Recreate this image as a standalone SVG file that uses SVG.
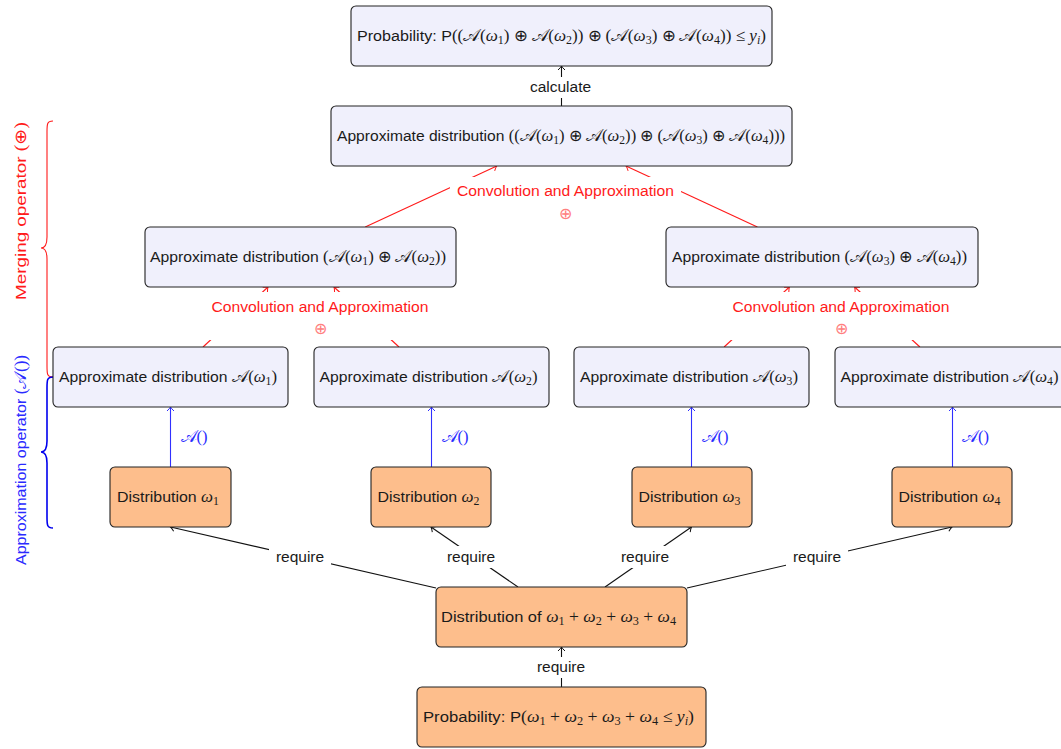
<svg xmlns="http://www.w3.org/2000/svg" width="1061" height="749" viewBox="0 0 1061 749">
<style>
.tx{font-family:"Liberation Sans","DejaVu Sans",sans-serif;font-size:15.5px;fill:#1a1a1a}
.r{font-family:"Liberation Serif","DejaVu Serif",serif;font-style:normal;font-size:16.5px}
.i{font-family:"Liberation Serif","DejaVu Serif",serif;font-style:italic;font-size:16.5px}
.c{font-family:"DejaVu Serif","Liberation Serif",serif;font-style:normal;font-size:16.5px}
.op{font-family:"DejaVu Sans","Liberation Serif",sans-serif;font-weight:200;font-style:normal;font-size:16px}
.s{font-family:"Liberation Serif","DejaVu Serif",serif;font-style:normal;font-size:11.5px}
.si{font-family:"Liberation Serif","DejaVu Serif",serif;font-style:italic;font-size:11.5px}
.bl{fill:#f0f0fc;stroke:#222;stroke-width:1.1}
.or{fill:#fdbe8c;stroke:#222;stroke-width:1.1}
.k{stroke:#111;stroke-width:1.1;fill:none}
.rd{stroke:#ff1a1a;stroke-width:1.1;fill:none}
.bu{stroke:#3030ff;stroke-width:1.1;fill:none}
.wb{fill:#fff}
.red{fill:#ff1a1a}
.pale{fill:#ff8080}
.blue{fill:#2a2aff}
</style>
<defs>
<marker id="ak" viewBox="-6 -5 8 10" markerWidth="8" markerHeight="10" refX="0" refY="0" orient="auto" markerUnits="userSpaceOnUse"><path d="M-4,-3.5 Q-1.5,-0.8 0,0 Q-1.5,0.8 -4,3.5" fill="none" stroke="#111" stroke-width="1"/></marker>
<marker id="ar" viewBox="-6 -5 8 10" markerWidth="8" markerHeight="10" refX="0" refY="0" orient="auto" markerUnits="userSpaceOnUse"><path d="M-4,-3.5 Q-1.5,-0.8 0,0 Q-1.5,0.8 -4,3.5" fill="none" stroke="#ff1a1a" stroke-width="1"/></marker>
<marker id="ab" viewBox="-6 -5 8 10" markerWidth="8" markerHeight="10" refX="0" refY="0" orient="auto" markerUnits="userSpaceOnUse"><path d="M-4,-3.5 Q-1.5,-0.8 0,0 Q-1.5,0.8 -4,3.5" fill="none" stroke="#3030ff" stroke-width="1"/></marker>
</defs>
<rect width="1061" height="749" fill="#fff"/>

<g id="connectors">
<path class="k" d="M561.5,106 V66" marker-end="url(#ak)"/>
<path class="rd" d="M365.2,227 L496.8,166" marker-end="url(#ar)"/>
<path class="rd" d="M757.4,227 L626,166" marker-end="url(#ar)"/>
<path class="rd" d="M203,347 L268,287" marker-end="url(#ar)"/>
<path class="rd" d="M399,347 L334,287" marker-end="url(#ar)"/>
<path class="rd" d="M724.1,347 L789.4,287" marker-end="url(#ar)"/>
<path class="rd" d="M919.9,347 L854.6,287" marker-end="url(#ar)"/>
<path class="bu" d="M170.5,467 V407" marker-end="url(#ab)"/>
<path class="bu" d="M431.5,467 V407" marker-end="url(#ab)"/>
<path class="bu" d="M691.5,467 V407" marker-end="url(#ab)"/>
<path class="bu" d="M952.5,467 V407" marker-end="url(#ab)"/>
<path class="k" d="M436,588 L170.5,527" marker-end="url(#ak)"/>
<path class="k" d="M518,587 L431,527" marker-end="url(#ak)"/>
<path class="k" d="M605,587 L691.5,527" marker-end="url(#ak)"/>
<path class="k" d="M687,588 L952,527" marker-end="url(#ak)"/>
<path class="k" d="M561.5,687 V647" marker-end="url(#ak)"/>

<rect class="wb" x="521" y="77" width="79" height="21"/>
<text class="tx" x="560.5" y="92" text-anchor="middle">calculate</text>
<rect class="wb" x="450" y="177" width="231" height="45"/>
<text class="tx red" x="565.5" y="196" text-anchor="middle" textLength="217" lengthAdjust="spacingAndGlyphs">Convolution and Approximation</text>
<text class="op pale" x="565.5" y="219" text-anchor="middle">⊕</text>
<rect class="wb" x="205" y="292" width="231" height="48"/>
<text class="tx red" x="320" y="312" text-anchor="middle" textLength="217" lengthAdjust="spacingAndGlyphs">Convolution and Approximation</text>
<text class="op pale" x="320" y="334" text-anchor="middle">⊕</text>
<rect class="wb" x="726" y="292" width="231" height="48"/>
<text class="tx red" x="841" y="312" text-anchor="middle" textLength="217" lengthAdjust="spacingAndGlyphs">Convolution and Approximation</text>
<text class="op pale" x="841" y="334" text-anchor="middle">⊕</text>
<text class="c blue" x="180.5" y="442">𝒜<tspan class="r">()</tspan></text>
<text class="c blue" x="441.5" y="442">𝒜<tspan class="r">()</tspan></text>
<text class="c blue" x="701.5" y="442">𝒜<tspan class="r">()</tspan></text>
<text class="c blue" x="962" y="442">𝒜<tspan class="r">()</tspan></text>
<rect class="wb" x="269" y="546" width="62" height="22"/>
<text class="tx" x="300" y="562" text-anchor="middle">require</text>
<rect class="wb" x="440" y="546" width="62" height="22"/>
<text class="tx" x="471" y="562" text-anchor="middle">require</text>
<rect class="wb" x="614" y="546" width="62" height="22"/>
<text class="tx" x="645" y="562" text-anchor="middle">require</text>
<rect class="wb" x="786" y="546" width="62" height="22"/>
<text class="tx" x="817" y="562" text-anchor="middle">require</text>
<rect class="wb" x="530" y="657" width="62" height="21"/>
<text class="tx" x="561" y="672" text-anchor="middle">require</text>
</g>

<g id="brace-merging">
<path class="rd" stroke-width="1.6" d="M53,121 C47,121 47,124 47,132 L47,237 C47,244 45,248 41,248 C45,248 47,252 47,259 L47,366 C47,374 47,377 53,377"/>
<text class="tx red" transform="translate(26,300) rotate(-90)" textLength="178" lengthAdjust="spacingAndGlyphs">Merging operator <tspan class="r">(</tspan><tspan class="op">⊕</tspan><tspan class="r">)</tspan></text>
</g>
<g id="brace-approx">
<path d="M53,377 C47,377 47,380 47,388 L47,441 C47,448 45,452 41,452 C45,452 47,456 47,463 L47,517 C47,525 47,528 53,528" fill="none" stroke="#0000ee" stroke-width="1.6"/>
<text class="tx blue" transform="translate(26,565) rotate(-90)" textLength="210" lengthAdjust="spacingAndGlyphs">Approximation operator <tspan class="r">(</tspan><tspan class="c">𝒜</tspan><tspan class="r">())</tspan></text>
</g>

<g id="prob-top">
<rect class="bl" x="351" y="6" width="421" height="60" rx="5"/>
<text class="tx" x="357" y="41" textLength="409" lengthAdjust="spacingAndGlyphs">Probability: P<tspan class="r">((</tspan><tspan class="c">𝒜</tspan><tspan class="r">(</tspan><tspan class="i">ω</tspan><tspan class="s" dy="3">1</tspan><tspan class="r" dy="-3">) </tspan><tspan class="op">⊕</tspan><tspan class="r"> </tspan><tspan class="c">𝒜</tspan><tspan class="r">(</tspan><tspan class="i">ω</tspan><tspan class="s" dy="3">2</tspan><tspan class="r" dy="-3">)) </tspan><tspan class="op">⊕</tspan><tspan class="r"> (</tspan><tspan class="c">𝒜</tspan><tspan class="r">(</tspan><tspan class="i">ω</tspan><tspan class="s" dy="3">3</tspan><tspan class="r" dy="-3">) </tspan><tspan class="op">⊕</tspan><tspan class="r"> </tspan><tspan class="c">𝒜</tspan><tspan class="r">(</tspan><tspan class="i">ω</tspan><tspan class="s" dy="3">4</tspan><tspan class="r" dy="-3">)) ≤ </tspan><tspan class="i">y</tspan><tspan class="si" dy="3">i</tspan><tspan class="r" dy="-3">)</tspan></text>
</g>

<g id="approx-all">
<rect class="bl" x="331" y="106" width="461" height="60" rx="5"/>
<text class="tx" x="337" y="141" textLength="448" lengthAdjust="spacingAndGlyphs">Approximate distribution <tspan class="r">((</tspan><tspan class="c">𝒜</tspan><tspan class="r">(</tspan><tspan class="i">ω</tspan><tspan class="s" dy="3">1</tspan><tspan class="r" dy="-3">) </tspan><tspan class="op">⊕</tspan><tspan class="r"> </tspan><tspan class="c">𝒜</tspan><tspan class="r">(</tspan><tspan class="i">ω</tspan><tspan class="s" dy="3">2</tspan><tspan class="r" dy="-3">)) </tspan><tspan class="op">⊕</tspan><tspan class="r"> (</tspan><tspan class="c">𝒜</tspan><tspan class="r">(</tspan><tspan class="i">ω</tspan><tspan class="s" dy="3">3</tspan><tspan class="r" dy="-3">) </tspan><tspan class="op">⊕</tspan><tspan class="r"> </tspan><tspan class="c">𝒜</tspan><tspan class="r">(</tspan><tspan class="i">ω</tspan><tspan class="s" dy="3">4</tspan><tspan class="r" dy="-3">)))</tspan></text>
</g>

<g id="approx-12">
<rect class="bl" x="145" y="227" width="311" height="60" rx="5"/>
<text class="tx" x="150" y="262" textLength="296" lengthAdjust="spacingAndGlyphs">Approximate distribution <tspan class="r">(</tspan><tspan class="c">𝒜</tspan><tspan class="r">(</tspan><tspan class="i">ω</tspan><tspan class="s" dy="3">1</tspan><tspan class="r" dy="-3">) </tspan><tspan class="op">⊕</tspan><tspan class="r"> </tspan><tspan class="c">𝒜</tspan><tspan class="r">(</tspan><tspan class="i">ω</tspan><tspan class="s" dy="3">2</tspan><tspan class="r" dy="-3">))</tspan></text>
</g>

<g id="approx-34">
<rect class="bl" x="666" y="227" width="312" height="60" rx="5"/>
<text class="tx" x="672" y="262" textLength="295" lengthAdjust="spacingAndGlyphs">Approximate distribution <tspan class="r">(</tspan><tspan class="c">𝒜</tspan><tspan class="r">(</tspan><tspan class="i">ω</tspan><tspan class="s" dy="3">3</tspan><tspan class="r" dy="-3">) </tspan><tspan class="op">⊕</tspan><tspan class="r"> </tspan><tspan class="c">𝒜</tspan><tspan class="r">(</tspan><tspan class="i">ω</tspan><tspan class="s" dy="3">4</tspan><tspan class="r" dy="-3">))</tspan></text>
</g>

<g id="approx-1">
<rect class="bl" x="53" y="347" width="235" height="60" rx="5"/>
<text class="tx" x="59" y="382" textLength="218" lengthAdjust="spacingAndGlyphs">Approximate distribution <tspan class="c">𝒜</tspan><tspan class="r">(</tspan><tspan class="i">ω</tspan><tspan class="s" dy="3">1</tspan><tspan class="r" dy="-3">)</tspan></text>
</g>
<g id="approx-2">
<rect class="bl" x="314" y="347" width="235" height="60" rx="5"/>
<text class="tx" x="319.5" y="382" textLength="218" lengthAdjust="spacingAndGlyphs">Approximate distribution <tspan class="c">𝒜</tspan><tspan class="r">(</tspan><tspan class="i">ω</tspan><tspan class="s" dy="3">2</tspan><tspan class="r" dy="-3">)</tspan></text>
</g>
<g id="approx-3">
<rect class="bl" x="574" y="347" width="235" height="60" rx="5"/>
<text class="tx" x="580" y="382" textLength="218" lengthAdjust="spacingAndGlyphs">Approximate distribution <tspan class="c">𝒜</tspan><tspan class="r">(</tspan><tspan class="i">ω</tspan><tspan class="s" dy="3">3</tspan><tspan class="r" dy="-3">)</tspan></text>
</g>
<g id="approx-4">
<rect class="bl" x="835" y="347" width="240" height="60" rx="5"/>
<text class="tx" x="840.5" y="382" textLength="218" lengthAdjust="spacingAndGlyphs">Approximate distribution <tspan class="c">𝒜</tspan><tspan class="r">(</tspan><tspan class="i">ω</tspan><tspan class="s" dy="3">4</tspan><tspan class="r" dy="-3">)</tspan></text>
</g>

<g id="dist-1">
<rect class="or" x="110" y="467" width="121" height="60" rx="5"/>
<text class="tx" x="117" y="502" textLength="102" lengthAdjust="spacingAndGlyphs">Distribution <tspan class="i">ω</tspan><tspan class="s" dy="3">1</tspan></text>
</g>
<g id="dist-2">
<rect class="or" x="371" y="467" width="120" height="60" rx="5"/>
<text class="tx" x="377.5" y="502" textLength="102" lengthAdjust="spacingAndGlyphs">Distribution <tspan class="i">ω</tspan><tspan class="s" dy="3">2</tspan></text>
</g>
<g id="dist-3">
<rect class="or" x="632" y="467" width="120" height="60" rx="5"/>
<text class="tx" x="638.5" y="502" textLength="102" lengthAdjust="spacingAndGlyphs">Distribution <tspan class="i">ω</tspan><tspan class="s" dy="3">3</tspan></text>
</g>
<g id="dist-4">
<rect class="or" x="892" y="467" width="120" height="60" rx="5"/>
<text class="tx" x="898.5" y="502" textLength="102" lengthAdjust="spacingAndGlyphs">Distribution <tspan class="i">ω</tspan><tspan class="s" dy="3">4</tspan></text>
</g>

<g id="dist-sum">
<rect class="or" x="436" y="587" width="251" height="60" rx="5"/>
<text class="tx" x="441" y="622" textLength="235" lengthAdjust="spacingAndGlyphs">Distribution of <tspan class="i">ω</tspan><tspan class="s" dy="3">1</tspan><tspan class="r" dy="-3"> + </tspan><tspan class="i">ω</tspan><tspan class="s" dy="3">2</tspan><tspan class="r" dy="-3"> + </tspan><tspan class="i">ω</tspan><tspan class="s" dy="3">3</tspan><tspan class="r" dy="-3"> + </tspan><tspan class="i">ω</tspan><tspan class="s" dy="3">4</tspan></text>
</g>

<g id="prob-bottom">
<rect class="or" x="417" y="687" width="289" height="60" rx="5"/>
<text class="tx" x="423" y="722" textLength="271" lengthAdjust="spacingAndGlyphs">Probability: P<tspan class="r">(</tspan><tspan class="i">ω</tspan><tspan class="s" dy="3">1</tspan><tspan class="r" dy="-3"> + </tspan><tspan class="i">ω</tspan><tspan class="s" dy="3">2</tspan><tspan class="r" dy="-3"> + </tspan><tspan class="i">ω</tspan><tspan class="s" dy="3">3</tspan><tspan class="r" dy="-3"> + </tspan><tspan class="i">ω</tspan><tspan class="s" dy="3">4</tspan><tspan class="r" dy="-3"> ≤ </tspan><tspan class="i">y</tspan><tspan class="si" dy="3">i</tspan><tspan class="r" dy="-3">)</tspan></text>
</g>
</svg>
